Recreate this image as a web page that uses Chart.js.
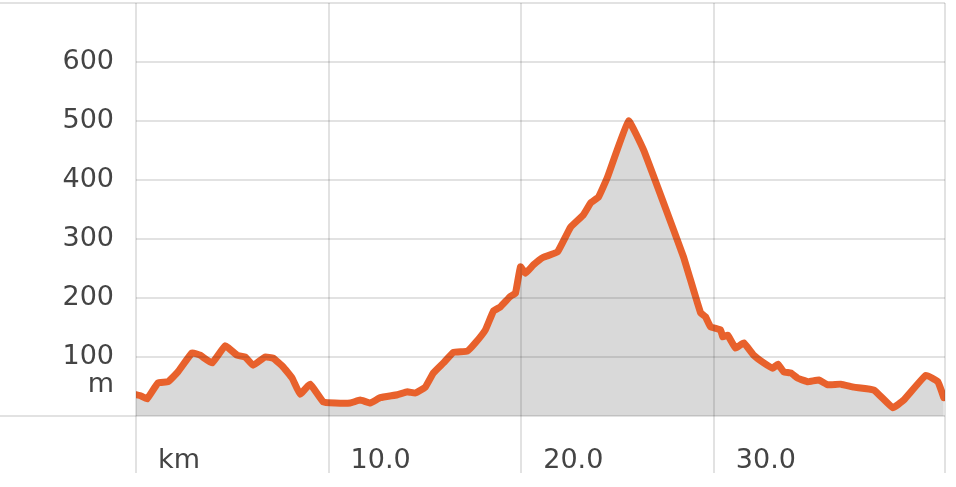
<!doctype html>
<html lang="en">

<head>
    <meta charset="utf-8">
    <title>Elevation profile</title>
    <style>
        html, body { margin: 0; padding: 0; background: #fff; }
        #wrap { width: 956px; height: 487px; }
    </style>
</head>

<body>
    <div id="wrap"><canvas id="profile"></canvas></div>

    <script src="https://cdn.jsdelivr.net/npm/chart.js@4.4.0/dist/chart.umd.min.js"></script>
    <script>
        // distance along the route (km) and elevation (m)
        const distances = [0, 0.26, 0.57, 1.14, 1.66, 2.18, 2.91, 3.33, 3.95, 4.63, 5.25, 5.67, 6.08, 6.70, 7.12,
            7.64, 8.11, 8.52, 9.04, 9.72, 10.34, 11.12, 11.64, 12.16, 12.68, 13.57, 14.09, 14.5, 15.02, 15.44,
            15.96, 16.48, 17.2, 17.62, 18.14, 18.56, 18.92, 19.44, 19.7, 19.96, 20.22, 20.63, 21.15, 21.88,
            22.56, 23.23, 23.6, 24.01, 24.48, 25.57, 26.35, 27.39, 28.43, 29.31, 29.57, 29.83, 30.35, 30.46,
            30.72, 31.13, 31.55, 32.07, 32.59, 33.06, 33.32, 33.63, 33.99, 34.36, 34.88, 35.45, 35.91, 36.59,
            37.27, 38.31, 39.29, 39.86, 41.01, 41.63, 41.94];
        const elevations = [36, 34, 29, 56, 58, 75, 107, 103, 90, 119, 103, 100, 86, 100, 98,
            83, 64, 37, 54, 24, 22, 22, 27, 22, 31, 36, 41, 39, 49, 73,
            90, 108, 110, 124, 146, 178, 185, 203, 208, 253, 242, 256, 269, 278,
            320, 341, 361, 371, 405, 500, 451, 361, 269, 175, 168, 151, 146, 134,
            137, 115, 124, 103, 90, 81, 88, 75, 73, 64, 58, 61, 53, 54,
            49, 44, 14, 27, 69, 58, 31];

        const xTicks = [0, 10, 20, 30, 42];
        const xLabels = ['km', '10.0', '20.0', '30.0', ''];
        const yTicks = [0, 52, 100, 200, 300, 400, 500, 600, 700];
        const yLabels = ['', 'm', '100', '200', '300', '400', '500', '600', ''];

        const gridColor = 'rgba(30,30,30,0.13)';
        const textColor = '#444444';

        const points = distances.map((d, i) => ({ x: d, y: elevations[i] }));

        new Chart(document.getElementById('profile'), {
            type: 'line',
            data: {
                datasets: [{
                    data: points,
                    borderColor: '#e8612c',
                    borderWidth: 7,
                    borderJoinStyle: 'round',
                    borderCapStyle: 'round',
                    backgroundColor: '#d9d9d9',
                    fill: 'origin',
                    tension: 0.1,
                    pointRadius: 0,
                    clip: 0,
                }]
            },
            options: {
                responsive: true,
                maintainAspectRatio: false,
                animation: false,
                layout: { padding: { top: 3, right: 11, left: 0, bottom: 0 } },
                plugins: {
                    legend: { display: false },
                    tooltip: { enabled: false },
                },
                scales: {
                    x: {
                        type: 'linear',
                        min: 0,
                        max: 42,
                        afterBuildTicks: s => { s.ticks = xTicks.map(v => ({ value: v })); },
                        afterFit: s => { s.height = 71; },
                        border: { display: false },
                        grid: {
                            z: 1,
                            color: gridColor,
                            lineWidth: 2,
                            tickLength: 57,
                            tickColor: gridColor,
                            tickWidth: 2,
                        },
                        ticks: {
                            align: 'start',
                            labelOffset: 22,
                            padding: -28,
                            maxRotation: 0,
                            color: textColor,
                            font: { family: 'DejaVu Sans', size: 27 },
                            callback: (v, i) => xLabels[i],
                        },
                    },
                    y: {
                        min: 0,
                        max: 700,
                        afterBuildTicks: s => { s.ticks = yTicks.map(v => ({ value: v })); },
                        afterFit: s => { s.width = 136; },
                        border: { display: false },
                        grid: {
                            z: 1,
                            color: ctx => ctx.tick && ctx.tick.value === 52 ? 'transparent' : gridColor,
                            lineWidth: 2,
                            tickLength: 136,
                            tickWidth: 2,
                            tickColor: ctx => ctx.tick && (ctx.tick.value === 0 || ctx.tick.value === 700) ? gridColor : 'transparent',
                        },
                        ticks: {
                            padding: -114,
                            color: textColor,
                            font: { family: 'DejaVu Sans', size: 27 },
                            callback: (v, i) => yLabels[i],
                        },
                    },
                },
            },
        });
    </script>
</body>

</html>
